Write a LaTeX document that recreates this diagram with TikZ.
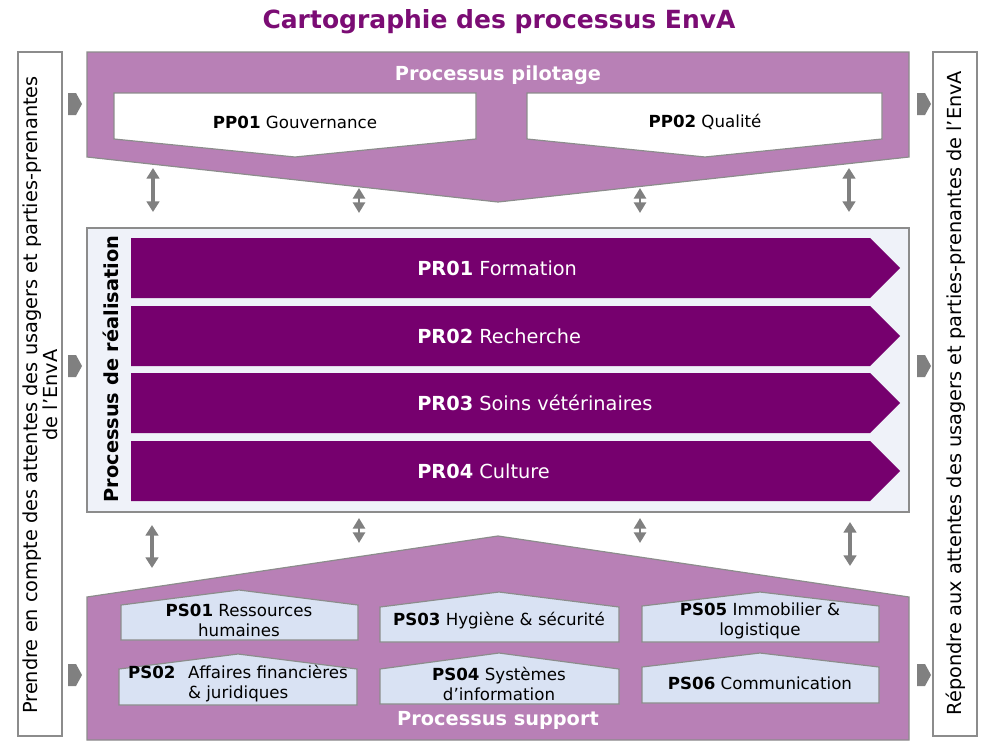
\documentclass[tikz,border=0pt]{standalone}
\usepackage{fontspec}
\setmainfont{DejaVu Sans}
\usetikzlibrary{arrows.meta}
\definecolor{mauve}{RGB}{184,128,182}
\definecolor{darkpurple}{RGB}{118,0,110}
\definecolor{titlepurple}{RGB}{123,12,116}
\definecolor{lightbg}{RGB}{239,242,249}
\definecolor{psblue}{RGB}{217,226,243}
\definecolor{bordergray}{RGB}{140,140,140}
\definecolor{arrowgray}{RGB}{128,128,128}
\newcommand{\fsz}[2]{\fontsize{#1}{#2}\selectfont}
\tikzset{
  band/.style={fill=mauve, draw=bordergray, line width=0.9pt},
  ppbox/.style={fill=white, draw=bordergray, line width=0.9pt},
  prbar/.style={fill=darkpurple, draw=none},
  psbox/.style={fill=psblue, draw=bordergray, line width=0.9pt},
  sidebox/.style={fill=white, draw=bordergray, line width=0.9pt},
  chev/.style={fill=arrowgray, draw=none},
  dblarrow/.style={draw=arrowgray, line width=3.6pt,
    {Triangle[length=8pt,width=9.5pt]}-{Triangle[length=8pt,width=9.5pt]}},
  shortarrow/.style={draw=arrowgray, line width=2pt,
    {Triangle[length=8pt,width=9pt]}-{Triangle[length=8pt,width=9pt]}},
  bandtitle/.style={text=white, font=\fsz{14.5pt}{17pt}\bfseries},
  pptext/.style={text=black, font=\fsz{12.5pt}{15pt}},
  prtext/.style={text=white, font=\fsz{14.5pt}{17pt}, anchor=west, inner sep=0pt},
  pstext/.style={text=black, font=\fsz{12.5pt}{15pt}, align=center, inner sep=0pt},
  sidetext/.style={text=black, font=\fsz{14.5pt}{12.6pt}, align=center, rotate=90, inner sep=0pt},
}
\begin{document}
\begin{tikzpicture}[x=0.75pt, y=-0.75pt]
\useasboundingbox (0,0) rectangle (1000,750);
\fill[white] (0,0) rectangle (1000,750);

% title
\node[text=titlepurple, font=\fsz{18.75pt}{22pt}\bfseries] (title) at (499,22) {Cartographie des processus EnvA};

% side boxes
\draw[sidebox] (18,52) rectangle (62,736);
\node[sidetext] (lefttext) at (40,395) {Prendre en compte des attentes des usagers et parties-prenantes\\de l’EnvA};
\draw[sidebox] (933,52) rectangle (977,736);
\node[sidetext] (righttext) at (956,393) {Répondre aux attentes des usagers et parties-prenantes de l’EnvA};

% chevrons
\foreach \cy in {104,366,675}{
  \fill[chev] (68,\cy-11) -- (76,\cy-11) -- (82,\cy) -- (76,\cy+11) -- (68,\cy+11) -- cycle;
  \fill[chev] (917,\cy-11) -- (925,\cy-11) -- (931,\cy) -- (925,\cy+11) -- (917,\cy+11) -- cycle;
}

% pilotage band
\draw[band] (87,52) -- (909,52) -- (909,157) -- (498,202) -- (87,157) -- cycle;
\node[bandtitle] (piltitle) at (498,75) {Processus pilotage};
\draw[ppbox] (114,93) -- (476,93) -- (476,139) -- (295,157) -- (114,139) -- cycle;
\node[pptext] (pp01) at (295,122) {\textbf{PP01} Gouvernance};
\draw[ppbox] (527,93) -- (882,93) -- (882,139) -- (705,157) -- (527,139) -- cycle;
\node[pptext] (pp02) at (705,122) {\textbf{PP02} Qualité};

% upper double arrows
\coordinate (u1a) at (153,168); \coordinate (u1b) at (153,212);
\coordinate (u2a) at (359,188); \coordinate (u2b) at (359,213);
\coordinate (u3a) at (640,188); \coordinate (u3b) at (640,213);
\coordinate (u4a) at (849,168); \coordinate (u4b) at (849,212);
\draw[dblarrow] (u1a) -- (u1b);
\draw[shortarrow] (u2a) -- (u2b);
\draw[shortarrow] (u3a) -- (u3b);
\draw[dblarrow] (u4a) -- (u4b);

% realisation
\draw[fill=lightbg, draw=bordergray, line width=0.9pt] (87,228) rectangle (909,512);
\node[rotate=90, font=\fsz{14.5pt}{17pt}\bfseries] (realtitle) at (111,369) {Processus de réalisation};
\foreach \yt/\code/\lab in {238/PR01/Formation, 306/PR02/Recherche, 373/PR03/Soins vétérinaires, 441/PR04/Culture}{
  \fill[prbar] (131,\yt) -- (870,\yt) -- (900,\yt+30) -- (870,\yt+60) -- (131,\yt+60) -- cycle;
  \node[prtext] (\code) at (417,\yt+30) {\textbf{\code} \lab};
}

% lower double arrows
\coordinate (d1a) at (152,525); \coordinate (d1b) at (152,568);
\coordinate (d2a) at (359,518); \coordinate (d2b) at (359,543);
\coordinate (d3a) at (640,518); \coordinate (d3b) at (640,543);
\coordinate (d4a) at (850,522); \coordinate (d4b) at (850,566);
\draw[dblarrow] (d1a) -- (d1b);
\draw[shortarrow] (d2a) -- (d2b);
\draw[shortarrow] (d3a) -- (d3b);
\draw[dblarrow] (d4a) -- (d4b);

% support band
\draw[band] (87,597) -- (498,536) -- (909,597) -- (909,740) -- (87,740) -- cycle;
\node[bandtitle] (suptitle) at (498,720) {Processus support};

% PS boxes
\draw[psbox] (121,605) -- (239,590) -- (358,605) -- (358,640) -- (121,640) -- cycle;
\node[pstext] (ps01) at (239,620) {\textbf{PS01} Ressources\\humaines};
\draw[psbox] (119,669) -- (238,654) -- (357,669) -- (357,705) -- (119,705) -- cycle;
\node[pstext] (ps02) at (238,684) {\begin{tabular}{@{}l@{\hspace{0.75em}}l@{}}\textbf{PS02} & Affaires financières\\ & \& juridiques\end{tabular}};
\draw[psbox] (380,607) -- (499,592) -- (619,607) -- (619,642) -- (380,642) -- cycle;
\node[pstext] (ps03) at (499,621) {\textbf{PS03} Hygiène \& sécurité};
\draw[psbox] (380,669) -- (499,653) -- (619,669) -- (619,704) -- (380,704) -- cycle;
\node[pstext] (ps04) at (499,684) {\textbf{PS04} Systèmes\\d’information};
\draw[psbox] (642,606) -- (760,592) -- (879,606) -- (879,642) -- (642,642) -- cycle;
\node[pstext] (ps05) at (760,621) {\textbf{PS05} Immobilier \&\\logistique};
\draw[psbox] (642,667) -- (760,653) -- (879,667) -- (879,703) -- (642,703) -- cycle;
\node[pstext] (ps06) at (760,683) {\textbf{PS06} Communication};
\end{tikzpicture}
\end{document}
